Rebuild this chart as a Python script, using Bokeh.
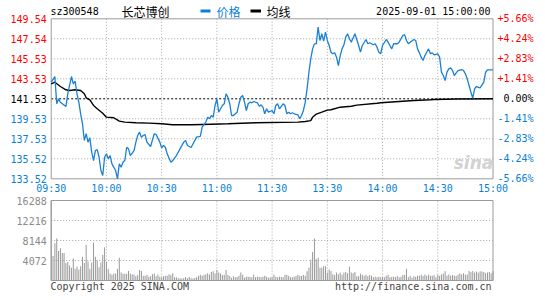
from bokeh.plotting import figure
from bokeh.models import Range1d, ColumnDataSource
from bokeh.embed import file_html
from bokeh.resources import INLINE
from bokeh.core.properties import value

# ---------------- data ----------------
stock_code = "sz300548"
stock_name = "长芯博创"
legend_price = "价格"
legend_avg = "均线"
stamp = "2025-09-01 15:00:00"
copyright_text = "Copyright 2025 SINA.COM"
site_text = "http://finance.sina.com.cn"
prev_close = 141.53
price_low, price_high = 133.52, 149.54
price_ticks = [149.54, 147.54, 145.53, 143.53, 141.53, 139.53, 137.53, 135.52, 133.52]
price_tick_labels = ["149.54", "147.54", "145.53", "143.53", "141.53", "139.53", "137.53", "135.52", "133.52"]
pct_labels = ["+5.66%", "+4.24%", "+2.83%", "+1.41%", "0.00%", "-1.41%", "-2.83%", "-4.24%", "-5.66%"]
time_ticks = [0, 30, 60, 90, 120, 150, 180, 210, 240]
time_labels = ["09:30", "10:00", "10:30", "11:00", "11:30", "13:30", "14:00", "14:30", "15:00"]
vol_max = 16288
vol_ticks = [4072, 8144, 12216, 16288]
vol_tick_labels = ["4072", "8144", "12216", "16288"]

price_minute = [0, 2, 3, 4, 5, 8, 9, 11, 12, 13, 14, 15, 16, 17, 18, 19, 20, 21, 22, 23,
                24, 25, 26, 27, 28, 29, 30, 31, 32, 33, 35, 36, 37, 38, 39, 40, 41, 42, 43, 45,
                46, 47, 48, 49, 50, 51, 52, 54, 55, 56, 57, 59, 60, 61, 62, 63, 65, 66, 68, 70,
                72, 73, 74, 76, 79, 81, 82, 84, 85, 86, 87, 88, 89, 90, 91, 92, 93, 94, 95, 96,
                97, 98, 99, 101, 102, 103, 104, 105, 106, 107, 108, 109, 110, 112, 113, 114, 115, 116, 117, 118,
                120, 121, 122, 123, 124, 126, 127, 128, 129, 130, 131, 132, 134, 135, 136, 137, 138, 139, 140, 141,
                142, 143, 144, 145, 146, 147, 148, 149, 150, 151, 152, 153, 154, 155, 156, 157, 158, 159, 160, 161,
                162, 163, 165, 166, 167, 168, 169, 171, 172, 173, 175, 176, 177, 178, 179, 180, 182, 183, 184, 185,
                186, 188, 189, 191, 192, 193, 194, 195, 197, 198, 199, 200, 201, 202, 203, 205, 206, 207, 208, 210,
                211, 212, 213, 214, 215, 216, 217, 218, 219, 220, 221, 223, 224, 225, 226, 227, 228, 229, 230, 231,
                233, 235, 236, 237, 239, 240]
price_value = [143.19, 143.76, 141.03, 141.53, 141.19, 140.76, 142.03, 143.76, 143.03, 143.29, 142.03, 141.19, 140.03, 139.03, 137.36, 138.03, 137.19, 137.63, 136.19, 135.35,
               136.35, 136.45, 135.68, 134.35, 133.85, 135.68, 136.02, 135.52, 135.85, 135.02, 134.35, 133.52, 135.02, 134.68, 135.18, 135.35, 136.68, 136.52, 135.85, 136.35,
               137.19, 137.86, 138.19, 137.69, 137.86, 137.96, 137.19, 136.75, 137.42, 138.03, 137.96, 137.19, 136.62, 136.86, 136.68, 136.02, 135.18, 135.35, 135.85, 136.52,
               137.19, 137.36, 136.86, 136.65, 137.69, 137.76, 138.69, 139.20, 139.69, 139.53, 139.86, 139.69, 140.86, 141.53, 140.19, 140.53, 140.86, 141.03, 142.03, 141.69,
               141.03, 139.86, 139.86, 140.19, 141.03, 141.69, 141.86, 141.19, 140.36, 141.03, 141.19, 141.13, 141.26, 141.13, 140.79, 140.93, 140.69, 140.03, 140.53, 140.19,
               140.36, 140.03, 140.86, 141.03, 140.53, 141.03, 140.86, 140.03, 140.19, 140.03, 140.13, 140.03, 139.93, 139.53, 139.86, 140.36, 141.19, 142.53, 144.19, 145.53,
               146.53, 147.03, 147.03, 148.70, 147.37, 148.04, 147.30, 148.20, 147.37, 146.87, 146.20, 146.04, 146.13, 145.70, 144.86, 145.86, 146.53, 146.94, 147.70, 148.04,
               147.54, 147.20, 148.04, 147.47, 146.87, 146.20, 146.87, 147.47, 147.04, 147.14, 146.94, 147.04, 146.70, 146.20, 146.04, 146.87, 147.47, 147.20, 146.87, 146.53,
               147.04, 147.04, 147.20, 147.87, 147.94, 147.37, 147.04, 147.20, 147.47, 147.37, 146.53, 146.13, 145.70, 145.36, 145.86, 146.53, 146.04, 146.13, 145.94, 146.04,
               145.70, 144.20, 143.86, 143.36, 144.20, 144.53, 144.63, 144.36, 143.86, 144.13, 144.36, 144.46, 144.36, 144.03, 143.53, 142.86, 142.19, 141.59, 142.53, 142.76,
               142.63, 143.19, 144.19, 144.43, 144.43, 144.43]

avg_minute = [0, 2, 5, 8, 10, 13, 16, 18, 19, 21, 23, 25, 28, 30, 34, 37, 40, 46, 53, 60,
              66, 76, 82, 96, 111, 134, 138, 141, 142, 144, 147, 150, 152, 157, 163, 166, 177, 179, 191, 197,
              206, 208, 220, 240]
avg_value = [143.03, 143.19, 142.76, 142.43, 142.36, 142.43, 142.36, 142.03, 141.63, 141.43, 140.86, 140.53, 140.09, 139.69, 139.63, 139.29, 139.19, 139.13, 139.09, 139.03,
             138.93, 138.93, 138.96, 139.03, 139.13, 139.19, 139.26, 139.35, 139.69, 140.00, 140.19, 140.40, 140.43, 140.69, 140.79, 140.90, 141.09, 141.13, 141.29, 141.36,
             141.43, 141.46, 141.51, 141.53]

volume = [16288, 4980, 7560, 8530, 6010, 6590, 5620, 5620, 3560, 3750,
          3040, 2590, 4460, 2390, 2780, 2260, 2910, 4850, 3560, 7300,
          3880, 2390, 3680, 7760, 4850, 4070, 2710, 3680, 5170, 6790,
          3750, 2390, 1420, 1160, 1420, 1420, 2390, 4650, 1620, 1360,
          1360, 1360, 1940, 1420, 1230, 1230, 840, 1100, 2130, 1940,
          970, 970, 1100, 780, 840, 1290, 1420, 840, 1230, 780,
          650, 840, 970, 970, 1290, 1100, 1490, 650, 650, 450,
          450, 390, 450, 710, 450, 710, 450, 390, 520, 650,
          970, 1160, 970, 1100, 1290, 1490, 1230, 1750, 1870, 1420,
          2130, 1620, 1420, 1100, 1160, 2130, 1100, 900, 580, 840,
          650, 710, 970, 1620, 1160, 580, 780, 780, 710, 650,
          1230, 650, 780, 780, 650, 780, 970, 780, 580, 650,
          650,
          1160, 780, 650, 780, 710, 650, 1160, 1160, 970, 650,
          650, 780, 900, 1160, 970, 900, 1100, 970, 1870, 2590,
          4200, 5820, 8530, 4330, 4650, 2590, 2590, 2910, 2910, 1620,
          2260, 1940, 1290, 1100, 1620, 1290, 1620, 1160, 1620, 1750,
          1490, 2780, 1620, 1490, 1750, 840, 840, 1360, 1160, 970,
          1160, 840, 1100, 970, 650, 780, 650, 780, 650, 710,
          650, 970, 1160, 650, 710, 780, 650, 900, 650, 780,
          1100, 1160, 2390, 650, 970, 580, 840, 780, 970, 970,
          1160, 900, 1230, 970, 1160, 970, 970, 1100, 650, 1160,
          970, 1230, 1420, 1870, 970, 1230, 970, 1100, 970, 900,
          1160, 1420, 1230, 1490, 1160, 1230, 1940, 1750, 1940, 1620,
          1810, 1620, 1870, 1810, 1750, 1490, 1620, 1750, 1490, 1940]
vol_minute = list(range(len(volume)))

assert len(price_minute) == len(price_value)
assert len(avg_minute) == len(avg_value)

# ---------------- styles / layout (canvas pixels) ----------------
MONO = value("DejaVu Sans Mono")
CJK = value("Noto Sans CJK SC")
RED = "#ff0000"
BLUE_TXT = "#0a7fd6"
BLUE_LINE = "#1a80d6"
GRID = "#a8a8a8"
BOX = "#9a9a9a"
W, H = 537, 292
BX0, BX1 = 50.7, 492.5      # box left / right
PY0, PY1 = 18.3, 178.3      # price box top / bottom
VY0, VY1 = 200.0, 280.0     # volume box top / bottom

t0, t1 = time_ticks[0], time_ticks[-1]
ppm = (BX1 - BX0) / (t1 - t0)
ppp = (PY1 - PY0) / (price_high - price_low)
ppv = (VY1 - VY0) / vol_max

def px(c):
    return t0 + (c - BX0) / ppm

def py(c):
    return price_high - (c - PY0) / ppp

def vy(c):
    return vol_max - (c - VY0) / ppv

p = figure(width=W, height=H, x_range=Range1d(px(0), px(W)), y_range=Range1d(py(H), py(0)),
           output_backend="svg", toolbar_location=None, title=None,
           x_axis_location=None, y_axis_location=None, min_border=0)
p.extra_y_ranges = {"vol": Range1d(vy(H), vy(0))}
p.xgrid.visible = False
p.ygrid.visible = False
p.outline_line_color = None
p.background_fill_color = "white"
p.border_fill_color = "white"

# ---- price panel ----
inner_t = time_ticks[1:-1]
inner_p = [t for t in price_ticks if t not in (price_low, price_high, prev_close)]
p.segment(x0=inner_t, y0=[price_low] * len(inner_t), x1=inner_t, y1=[price_high] * len(inner_t),
          line_color=GRID, line_dash="1 2", line_width=1)
p.segment(x0=[t0] * len(inner_p), y0=inner_p, x1=[t1] * len(inner_p), y1=inner_p,
          line_color=GRID, line_dash="1 2", line_width=1)
p.segment(x0=[t0], y0=[prev_close], x1=[t1], y1=[prev_close], line_color="black",
          line_dash="2 2", line_width=1)
p.quad(left=[t0], right=[t1], bottom=[price_low], top=[price_high], fill_color=None,
       line_color=BOX, line_width=1)

p.text(x=[px(473)], y=[py(162)], text=["sina"], text_color="#d2d2d2",
       text_font=value("DejaVu Sans"), text_font_size="17px", text_font_style="bold italic",
       text_align="center", text_baseline="middle")

p.line(avg_minute, avg_value, line_color="black", line_width=1.4)
p.line(price_minute, price_value, line_color=BLUE_LINE, line_width=1.3)

colors = [RED if t > prev_close else ("black" if t == prev_close else BLUE_TXT) for t in price_ticks]
src = ColumnDataSource(dict(y=price_ticks, left=price_tick_labels, right=pct_labels, c=colors,
                            xl=[t0] * len(price_ticks), xr=[t1] * len(price_ticks)))
p.text(x="xl", y="y", text="left", source=src, x_offset=-4.5, text_align="right",
       text_baseline="middle", text_color="c", text_font=MONO, text_font_size="10px")
p.text(x="xr", y="y", text="right", source=src, x_offset=40.5, text_align="right",
       text_baseline="middle", text_color="c", text_font=MONO, text_font_size="10px")

p.text(x=time_ticks, y=[py(188)] * len(time_ticks), text=time_labels, text_align="center",
       text_baseline="middle", text_color=BLUE_TXT, text_font=MONO, text_font_size="10px")

# header
hy = py(10.5)
p.text(x=[px(50)], y=[hy], text=[stock_code], text_color="black", text_font=MONO,
       text_font_size="10px", text_align="left", text_baseline="middle")
p.text(x=[px(121)], y=[hy], text=[stock_name], text_color="black", text_font=CJK,
       text_font_size="12px", text_align="left", text_baseline="middle")
p.segment(x0=[px(200)], y0=[hy], x1=[px(210)], y1=[hy], line_color=BLUE_TXT, line_width=3)
p.text(x=[px(216)], y=[hy], text=[legend_price], text_color=BLUE_TXT, text_font=CJK,
       text_font_size="12px", text_align="left", text_baseline="middle")
p.segment(x0=[px(250)], y0=[hy], x1=[px(260.5)], y1=[hy], line_color="black", line_width=3)
p.text(x=[px(266)], y=[hy], text=[legend_avg], text_color="black", text_font=CJK,
       text_font_size="12px", text_align="left", text_baseline="middle")
p.text(x=[px(490)], y=[hy], text=[stamp], text_color="black", text_font=MONO,
       text_font_size="10px", text_align="right", text_baseline="middle")

# ---- volume panel ----
inner_v = vol_ticks[:-1]
p.segment(x0=inner_t, y0=[0] * len(inner_t), x1=inner_t, y1=[vol_max] * len(inner_t),
          line_color=GRID, line_dash="1 2", line_width=1, y_range_name="vol")
p.segment(x0=[t0] * len(inner_v), y0=inner_v, x1=[t1] * len(inner_v), y1=inner_v,
          line_color=GRID, line_dash="1 2", line_width=1, y_range_name="vol")
p.vbar(x=vol_minute, top=volume, bottom=0, width=1.0 / ppm, fill_color="#999999",
       line_color=None, y_range_name="vol")
p.quad(left=[t0], right=[t1], bottom=[0], top=[vol_max], fill_color=None,
       line_color=BOX, line_width=1, y_range_name="vol")
p.text(x=[t0] * len(vol_ticks), y=vol_ticks, text=vol_tick_labels, x_offset=-4.5,
       text_align="right", text_baseline="middle", text_color="#8a8a8a", text_font=MONO,
       text_font_size="10px", y_range_name="vol")

fy = vy(286)
p.text(x=[px(50)], y=[fy], text=[copyright_text], text_color="#444444", text_font=MONO,
       text_font_size="10px", text_align="left", text_baseline="middle", y_range_name="vol")
p.text(x=[px(491)], y=[fy], text=[site_text], text_color="#444444", text_font=MONO,
       text_font_size="10px", text_align="right", text_baseline="middle", y_range_name="vol")

open("out.html", "w").write(file_html(p, INLINE))
